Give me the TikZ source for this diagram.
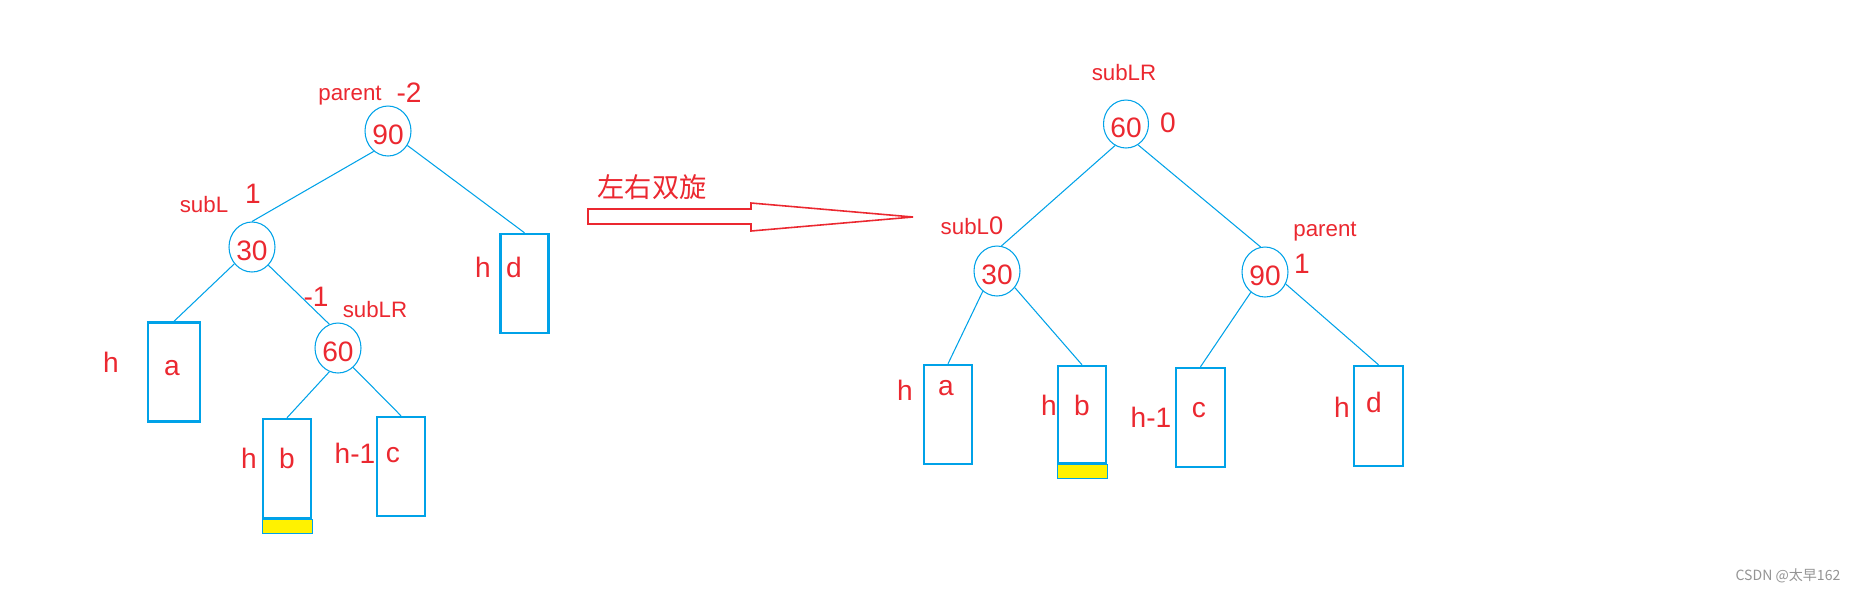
\documentclass[tikz,border=0pt]{standalone}
\usepackage{fontspec}
\setmainfont{Liberation Sans}
\newfontfamily\cjk{Noto Sans CJK SC}
\usepackage{xcolor}
\usepackage{tikz}
\usetikzlibrary{shapes.geometric, positioning}
\definecolor{treeblue}{RGB}{0, 162, 232}
\definecolor{markred}{RGB}{235, 40, 48}
\definecolor{growyellow}{RGB}{255, 242, 0}

\begin{document}
\begin{tikzpicture}[x=0.02cm, y=-0.02cm,
    keynode/.style={ellipse, draw=treeblue, line width=0.6pt, minimum width=0.92cm,
                minimum height=1cm, inner sep=0pt, text=markred,
                font=\fontsize{16}{18}\selectfont, text height=15pt, text depth=0pt},
    subtree/.style={rectangle, draw=treeblue, line width=1.4pt, minimum width=0.96cm,
                    minimum height=1.98cm, inner sep=0pt},
    growbar/.style={rectangle, fill=growyellow, draw=treeblue, line width=0.5pt,
                 minimum width=1cm, minimum height=0.27cm, inner sep=0pt, anchor=north},
    tag/.style={text=markred, font=\fontsize{12.7}{15}\selectfont, inner sep=0pt},
    bigtag/.style={text=markred, font=\fontsize{16}{19}\selectfont, inner sep=0pt},
    treeedge/.style={draw=treeblue, line width=0.6pt}]
  \useasboundingbox (0,0) rectangle (1860,593);

  % before the rotation
  \node[keynode] (l90) at (388,131) {90};
  \node[keynode] (l30) at (252,247) {30};
  \node[keynode] (l60) at (338,348) {60};
  \node[subtree, minimum width=1.04cm] (la) at (174,372) {};
  \node[subtree] (lb) at (287,468.5) {};
  \node[subtree] (lc) at (401,466.5) {};
  \node[subtree] (ld) at (524.5,283.5) {};
  \node[growbar] (lbgrow) at (lb.south) {};

  \node[tag] (lparent) at (350,96) {parent};
  \node[bigtag] (lbf90) at (409,93) {-2};
  \node[tag] (lsubl) at (204,205) {subL};
  \node[bigtag] (lbf30) at (253,194) {1};
  \node[bigtag] (lbf60) at (316,297) {-1};
  \node[tag] (lsublr) at (375,310) {subLR};

  \node[bigtag] (lha) at (111,362) {h};
  \node[bigtag] (lna) at (172,368) {a};
  \node[bigtag] (lhb) at (249,458) {h};
  \node[bigtag] (lnb) at (287,458) {b};
  \node[bigtag] (lhc) at (355,453) {h-1};
  \node[bigtag] (lnc) at (393,455) {c};
  \node[bigtag] (lhd) at (483,267) {h};
  \node[bigtag] (lnd) at (514,267) {d};

  \draw[treeedge] (l90.-125) -- (l30.north);
  \draw[treeedge] (l90) -- (ld.north);
  \draw[treeedge] (l30) -- (la.north);
  \draw[treeedge] (l30.-48) -- (l60.110);
  \draw[treeedge] (l60.-110) -- (lb.north);
  \draw[treeedge] (l60.-52) -- (lc.north);

  % rotation arrow
  \node[text=markred, font=\cjk\fontsize{15.5}{18}\selectfont, inner sep=0pt] (rot) at (652,187) {左右双旋};
  \draw[markred, line width=0.9pt] (588,209) -- (751,209) -- (751,203) -- (913,217)
    -- (751,231) -- (751,224) -- (588,224) -- cycle;

  % after the rotation
  \node[keynode, minimum width=0.9cm, minimum height=0.96cm] (r60) at (1126,124) {60};
  \node[keynode] (r30) at (997,271) {30};
  \node[keynode] (r90) at (1265,272) {90};
  \node[subtree] (ra) at (948,414.5) {};
  \node[subtree, minimum height=1.94cm] (rb) at (1082,414.5) {};
  \node[subtree, minimum width=0.98cm] (rc) at (1200.5,417.5) {};
  \node[subtree, minimum width=0.98cm, minimum height=2cm] (rd) at (1378.5,416) {};
  \node[growbar] (rbgrow) at (rb.south) {};

  \node[tag] (rsublr) at (1124,73) {subLR};
  \node[bigtag] (rbf60) at (1168,123) {0};
  \node[tag] (rsubl) at (972,226) {subL{\fontsize{14.5}{15}\selectfont 0}};
  \node[tag] (rparent) at (1325,232) {parent};
  \node[bigtag] (rbf90) at (1302,264) {1};

  \node[bigtag] (rha) at (905,390) {h};
  \node[bigtag] (rna) at (946,388) {a};
  \node[bigtag] (rhb) at (1049,405) {h};
  \node[bigtag] (rnb) at (1082,405) {b};
  \node[bigtag] (rhc) at (1151,417) {h-1};
  \node[bigtag] (rnc) at (1199,410) {c};
  \node[bigtag] (rhd) at (1342,407) {h};
  \node[bigtag] (rnd) at (1374,402) {d};

  \draw[treeedge] (r60.-117) -- (r30.80);
  \draw[treeedge] (r60.-60) -- (r90.100);
  \draw[treeedge] (r30.-125) -- (ra.north);
  \draw[treeedge] (r30.-43) -- (rb.north);
  \draw[treeedge] (r90.-125) -- (rc.north);
  \draw[treeedge] (r90.-30) -- (rd.north);

  \node[text=black!42, font=\cjk\fontsize{8}{10}\selectfont, inner sep=0pt] (mark) at (1788,576) {CSDN @太早162};
\end{tikzpicture}
\end{document}
